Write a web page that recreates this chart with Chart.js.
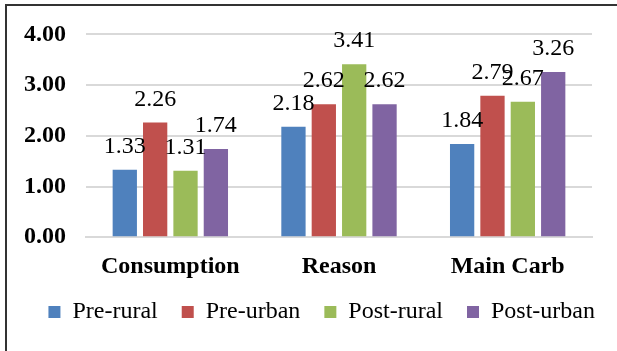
<!DOCTYPE html>
<html>
<head>
<meta charset="utf-8">
<script src="https://cdn.jsdelivr.net/npm/chart.js@4"></script>
<style>
  html, body { margin: 0; padding: 0; background: #fff; }
  #wrap { position: relative; width: 617px; height: 351px; }
</style>
</head>
<body>
<div id="wrap"><canvas id="chart" width="617" height="351"></canvas></div>
<script>
const categories = ["Consumption", "Reason", "Main Carb"];
const preRural = [1.33, 2.18, 1.84];
const preUrban = [2.26, 2.62, 2.79];
const postRural = [1.31, 3.41, 2.67];
const postUrban = [1.74, 2.62, 3.26];
const yTicks = [0, 1, 2, 3, 4];

const FONT = "'Liberation Serif', 'Times New Roman', serif";

// value labels centred above each bar
const valueLabels = {
  id: "valueLabels",
  afterDatasetsDraw(chart) {
    const ctx = chart.ctx;
    ctx.save();
    ctx.font = "24px " + FONT;
    ctx.fillStyle = "#000";
    ctx.textAlign = "center";
    ctx.textBaseline = "alphabetic";
    chart.data.datasets.forEach((ds, i) => {
      chart.getDatasetMeta(i).data.forEach((bar, j) => {
        ctx.fillText(ds.data[j].toFixed(2), bar.x, bar.y - 17);
      });
    });
    ctx.restore();
  },
};

// outer frame of the figure (only top and left edges show)
const frame = {
  id: "frame",
  afterDraw(chart) {
    const ctx = chart.ctx;
    ctx.save();
    ctx.strokeStyle = "#333";
    ctx.lineWidth = 2;
    ctx.beginPath();
    ctx.moveTo(6, 351);
    ctx.lineTo(6, 5);
    ctx.lineTo(617, 5);
    ctx.stroke();
    ctx.restore();
  },
};

const ctx = document.getElementById("chart").getContext("2d");
new Chart(ctx, {
  type: "bar",
  data: {
    labels: categories,
    datasets: [
      { label: "Pre-rural", data: preRural, backgroundColor: "#4f81bd" },
      { label: "Pre-urban", data: preUrban, backgroundColor: "#c0504d" },
      { label: "Post-rural", data: postRural, backgroundColor: "#9bbb59" },
      { label: "Post-urban", data: postUrban, backgroundColor: "#8064a2" },
    ],
  },
  options: {
    responsive: false,
    animation: false,
    datasets: {
      bar: { barPercentage: 0.8, categoryPercentage: 0.72 },
    },
    layout: { padding: { left: 4, right: 10, top: 22, bottom: 17 } },
    scales: {
      x: {
        grid: { display: false },
        border: { color: "#d9d9d9", width: 2 },
        ticks: { color: "#000", font: { family: FONT, size: 24, weight: "bold" }, padding: 7 },
      },
      y: {
        min: 0,
        max: 4,
        afterBuildTicks: (axis) => { axis.ticks = yTicks.map((v) => ({ value: v })); },
        grid: { color: "#d9d9d9", lineWidth: 2, drawTicks: false },
        border: { display: false },
        ticks: {
          color: "#000",
          font: { family: FONT, size: 24, weight: "bold" },
          padding: 20,
          callback: (v) => v.toFixed(2),
        },
      },
      // empty strip on the right, keeps the plot narrower than the legend
      spacer: {
        position: "right",
        grid: { display: false },
        border: { display: false },
        ticks: { display: false },
        afterFit: (axis) => { axis.width = 15; },
      },
    },
    plugins: {
      legend: {
        position: "bottom",
        align: "end",
        labels: {
          color: "#000",
          font: { family: FONT, size: 24 },
          boxWidth: 12,
          boxHeight: 12,
          padding: 12,
          generateLabels: (chart) =>
            Chart.defaults.plugins.legend.labels.generateLabels(chart).map((item, i, all) => {
              if (i < all.length - 1) item.text += "\u2002";
              return item;
            }),
        },
      },
      tooltip: { enabled: false },
    },
  },
  plugins: [valueLabels, frame],
});
</script>
</body>
</html>
